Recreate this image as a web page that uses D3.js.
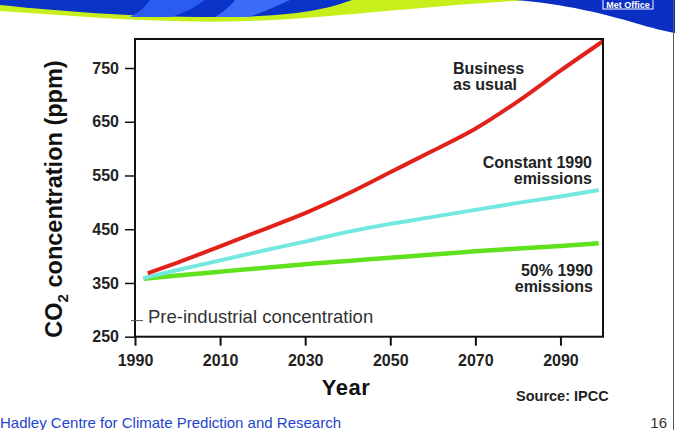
<!DOCTYPE html>
<html>
<head>
<meta charset="utf-8">
<script src="https://cdn.jsdelivr.net/npm/d3@7"></script>
<style>
  html, body { margin: 0; padding: 0; background: #fff; }
  svg { display: block; font-family: "Liberation Sans", Arial, sans-serif; }
</style>
</head>
<body>
<svg id="chart" width="675" height="430"></svg>
<script>
// ---- data ----
const bauYears = [1993, 2000, 2010, 2020, 2030, 2040, 2050, 2060, 2070, 2080, 2090, 2100];
const bauValues = [368, 388, 418, 449, 480, 516, 556, 596, 637, 688, 745, 800];
const constYears = [1992, 2000, 2010, 2020, 2030, 2040, 2050, 2060, 2070, 2080, 2090, 2099];
const constValues = [359, 374, 392, 410, 427, 445, 460, 473, 486, 499, 511, 523];
const halfYears = [1992, 2000, 2010, 2020, 2030, 2040, 2050, 2060, 2070, 2080, 2090, 2099];
const halfValues = [358, 364, 371, 378, 385, 391, 397, 403, 409, 414, 419, 424];
const preIndustrial = 280;
const xTicks = [1990, 2010, 2030, 2050, 2070, 2090];
const yTicks = [250, 350, 450, 550, 650, 750];

(function () {
const svg = d3.select("#chart");

// ---- slide banner ----
const banner = svg.append("g");
banner.append("path").attr("fill", "#c6ef1c")
  .attr("d", "M0,0 L0,11 C80,16 160,24 250,21 C330,18 420,6 530,0 Z");
banner.append("path").attr("fill", "#0a33c8")
  .attr("d", "M0,0 L0,5 C60,11 140,18 230,17 C300,16 330,8 352,0 Z");
banner.append("path").attr("fill", "#2a5cf0")
  .attr("d", "M150,0 L205,0 C195,7 185,13 170,17 L130,17 C140,12 146,6 150,0 Z");
banner.append("path").attr("fill", "#3a6cf5")
  .attr("d", "M235,0 L290,0 C275,7 262,13 248,17 L215,17 C225,11 231,5 235,0 Z");
banner.append("path").attr("fill", "#0a2fc2")
  .attr("d", "M515,0 C565,4 605,14 635,23 C652,28 664,31 675,33 L675,0 Z");
banner.append("rect").attr("x", 603).attr("y", -1).attr("width", 50).attr("height", 10)
  .attr("fill", "#0a2fc2").attr("stroke", "#fff").attr("stroke-width", 1);
banner.append("text").attr("x", 628).attr("y", 7.5).attr("text-anchor", "middle")
  .attr("fill", "#fff").attr("font-size", 9).attr("font-weight", "bold").text("Met Office");
svg.append("line").attr("x1", 673.5).attr("x2", 673.5).attr("y1", 0).attr("y2", 430)
  .attr("stroke", "#555").attr("stroke-width", 1);

// ---- chart ----
const pLeft = 135, pRight = 603, pTop = 39, pBottom = 336.7;
const x = d3.scaleLinear().domain([1990, 2100]).range([pLeft, pRight]);
const y = d3.scaleLinear().domain([250, 804]).range([pBottom, pTop]);

const line = d3.line().x(d => x(d[0])).y(d => y(d[1])).curve(d3.curveMonotoneX);
const series = [
  { years: halfYears, values: halfValues, color: "#5fe11c", width: 4.5 },
  { years: constYears, values: constValues, color: "#72e8de", width: 4 },
  { years: bauYears, values: bauValues, color: "#e3211b", width: 4 }
];
series.forEach(s => {
  svg.append("path")
    .datum(s.years.map((yr, i) => [yr, s.values[i]]))
    .attr("fill", "none").attr("stroke", s.color).attr("stroke-width", s.width)
    .attr("stroke-linecap", "butt")
    .attr("d", line);
});

// frame
svg.append("rect").attr("x", pLeft).attr("y", pTop).attr("width", pRight - pLeft).attr("height", pBottom - pTop)
  .attr("fill", "none").attr("stroke", "#111").attr("stroke-width", 2);

// axes
const yAxis = svg.append("g").attr("transform", `translate(${pLeft},0)`)
  .call(d3.axisLeft(y).tickValues(yTicks).tickSize(10).tickPadding(6).tickFormat(d3.format("d")));
yAxis.select(".domain").remove();
yAxis.selectAll("line").attr("stroke", "#111").attr("stroke-width", 1.5);
yAxis.selectAll("text").attr("font-size", 16).attr("font-weight", "bold").attr("fill", "#222")
  .attr("font-family", "'Liberation Sans', Arial, sans-serif");

const xAxis = svg.append("g").attr("transform", `translate(0,${pBottom})`)
  .call(d3.axisBottom(x).tickValues(xTicks).tickSize(9).tickPadding(9).tickFormat(d3.format("d")));
xAxis.select(".domain").remove();
xAxis.selectAll("line").attr("stroke", "#111").attr("stroke-width", 2);
xAxis.selectAll("text").attr("font-size", 16).attr("font-weight", "bold").attr("fill", "#222")
  .attr("font-family", "'Liberation Sans', Arial, sans-serif");

// pre-industrial marker
svg.append("line").attr("x1", pLeft - 4).attr("x2", pLeft + 8)
  .attr("y1", y(preIndustrial)).attr("y2", y(preIndustrial))
  .attr("stroke", "#555").attr("stroke-width", 1);
svg.append("text").attr("x", 148).attr("y", y(preIndustrial) + 2)
  .attr("font-size", 18.5).attr("fill", "#333").text("Pre-industrial concentration");

// series labels
function label(lines, xPos, yPos, anchor) {
  lines.forEach((l, i) => svg.append("text")
    .attr("x", xPos).attr("y", yPos + i * 16.5).attr("text-anchor", anchor)
    .attr("font-size", 16).attr("font-weight", "bold").attr("fill", "#222").text(l));
}
label(["Business", "as usual"], 453, 73.5, "start");
label(["Constant 1990", "emissions"], 592, 167.5, "end");
label(["50% 1990", "emissions"], 593, 275.5, "end");

// axis titles
const yt = svg.append("text").attr("transform", "translate(62,199) rotate(-90)")
  .attr("text-anchor", "middle").attr("font-size", 23.5).attr("font-weight", "bold").attr("fill", "#111");
yt.append("tspan").text("CO");
yt.append("tspan").attr("font-size", 15).attr("dy", 6).text("2");
yt.append("tspan").attr("dy", -6).text(" concentration (ppm)");

svg.append("text").attr("x", 346).attr("y", 395).attr("text-anchor", "middle")
  .attr("font-size", 22).attr("font-weight", "bold").attr("fill", "#111")
  .attr("letter-spacing", 0.5).text("Year");
svg.append("text").attr("x", 516).attr("y", 401)
  .attr("font-size", 14.5).attr("font-weight", "bold").attr("fill", "#222").text("Source: IPCC");

// footer
svg.append("text").attr("x", 0).attr("y", 428)
  .attr("font-size", 15).attr("fill", "#2244cc").text("Hadley Centre for Climate Prediction and Research");
svg.append("text").attr("x", 667).attr("y", 428).attr("text-anchor", "end")
  .attr("font-size", 15).attr("fill", "#333").text("16");
})();
</script>
</body>
</html>
